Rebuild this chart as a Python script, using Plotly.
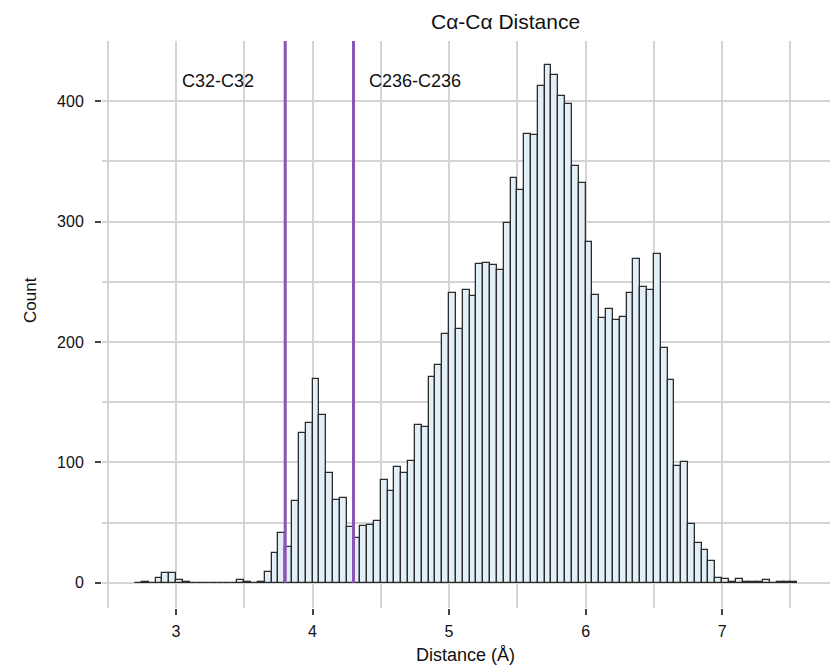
import plotly.graph_objects as go

# Histogram data: bins of width 0.05 starting at 2.70 Å
bin_start = 2.70
bin_width = 0.05
counts = [
    0, 1, 0, 4, 8, 8, 2, 1, 0, 0,          # 2.70 - 3.15
    0, 0, 0, 0, 0, 2, 1, 0, 1, 9,          # 3.20 - 3.65
    25, 41, 30, 68, 124, 133, 169, 139, 91, 69,   # 3.70 - 4.15
    70, 46, 37, 47, 48, 51, 85, 76, 96, 91,       # 4.20 - 4.65
    101, 131, 129, 171, 181, 207, 241, 211, 243, 238,  # 4.70 - 5.15
    265, 266, 264, 260, 299, 336, 326, 373, 372, 413,  # 5.20 - 5.65
    430, 422, 404, 398, 346, 332, 283, 239, 220, 227,  # 5.70 - 6.15
    218, 221, 241, 269, 246, 243, 273, 195, 168, 97,   # 6.20 - 6.65
    100, 49, 33, 27, 18, 4, 3, 1, 3, 1,               # 6.70 - 7.15
    1, 1, 2, 0, 1, 1, 1,                              # 7.20 - 7.50
]
bin_centers = [round(bin_start + bin_width * (i + 0.5), 4) for i in range(len(counts))]

ref_x = [3.80, 4.30]
ref_labels = ["C32-C32", "C236-C236"]
ref_label_x = [3.03, 4.40]
ref_label_y = 417

x_tickvals = [3, 4, 5, 6, 7]
y_tickvals = [0, 100, 200, 300, 400]

FONT = "Liberation Sans, Arial, sans-serif"
TXT = "#111111"

# plot area in pixels: left 102, right 830, top 41, bottom 608
L, R, T, B = 102, 830, 41, 608
def px_to_paper(px, py):
    return (px - L) / (R - L), (B - py) / (B - T)

fig = go.Figure()
fig.add_trace(go.Bar(
    x=bin_centers,
    y=counts,
    width=bin_width,
    marker=dict(color="#e3eff6", line=dict(color="#2b2b2b", width=1.3)),
    hoverinfo="x+y",
    showlegend=False,
))

for xv in ref_x:
    fig.add_shape(type="line", x0=xv, x1=xv, y0=0, y1=450, xref="x", yref="y",
                  line=dict(color="#8a55b3", width=3), layer="above")

for txt, xv in zip(ref_labels, ref_label_x):
    fig.add_annotation(x=xv, y=ref_label_y, xref="x", yref="y", text=txt,
                       showarrow=False, xanchor="left", yanchor="middle",
                       font=dict(size=18, color=TXT, family=FONT))

tx, ty = px_to_paper(505, 22)
fig.add_annotation(x=tx, y=ty, xref="paper", yref="paper",
                   text="Cα-Cα Distance", showarrow=False,
                   xanchor="center", yanchor="middle",
                   font=dict(size=21, color=TXT, family=FONT))
cx, cy = px_to_paper(30, 300)
fig.add_annotation(x=cx, y=cy, xref="paper", yref="paper",
                   text="Count", showarrow=False, textangle=-90,
                   xanchor="center", yanchor="middle",
                   font=dict(size=17, color=TXT, family=FONT))
dx, dy = px_to_paper(465, 655)
fig.add_annotation(x=dx, y=dy, xref="paper", yref="paper",
                   text="Distance (Å)", showarrow=False,
                   xanchor="center", yanchor="middle",
                   font=dict(size=18, color=TXT, family=FONT))

fig.update_layout(
    width=830, height=668,
    margin=dict(l=L, r=830 - R, t=T, b=668 - B, pad=0),
    paper_bgcolor="white", plot_bgcolor="white",
    bargap=0,
    font=dict(family=FONT, size=16, color=TXT),
    xaxis=dict(
        range=[2.458, 7.79],
        tickvals=x_tickvals,
        showgrid=True, gridcolor="#d4d4d4", gridwidth=1.5,
        minor=dict(dtick=0.5, tick0=0, showgrid=True, gridcolor="#d4d4d4", gridwidth=1.5),
        ticks="outside", ticklen=6, tickcolor="#444444", tickwidth=1.5,
        ticklabelstandoff=3,
        showline=False, zeroline=False,
        tickfont=dict(size=16, family=FONT, color=TXT),
    ),
    yaxis=dict(
        range=[-21, 450],
        tickvals=y_tickvals,
        showgrid=True, gridcolor="#d4d4d4", gridwidth=1.5,
        minor=dict(dtick=50, tick0=0, showgrid=True, gridcolor="#d4d4d4", gridwidth=1.5),
        ticks="outside", ticklen=6, tickcolor="#444444", tickwidth=1.5,
        ticklabelstandoff=8,
        showline=False, zeroline=False,
        tickfont=dict(size=16, family=FONT, color=TXT),
    ),
)

fig.write_html("out.html")
